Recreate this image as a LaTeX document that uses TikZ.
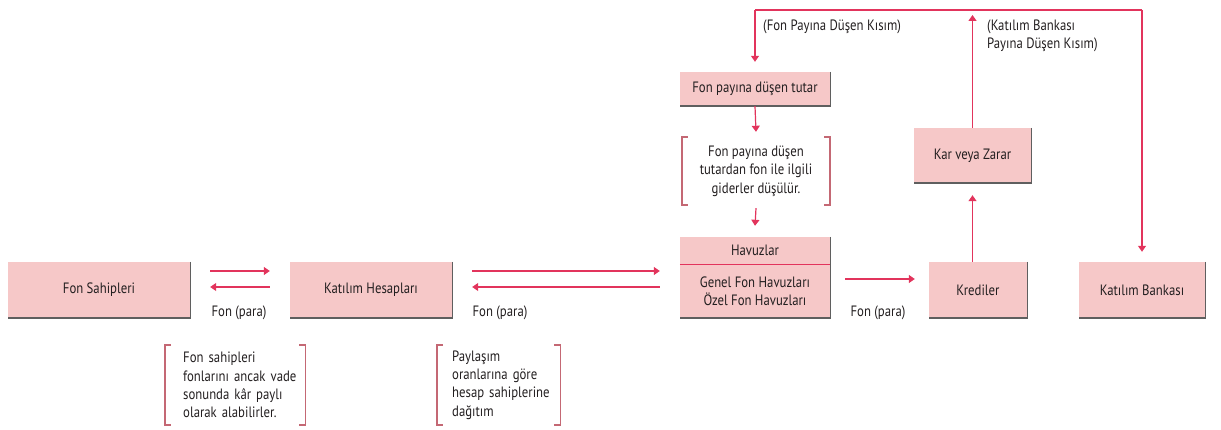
\documentclass[tikz,border=0pt]{standalone}
\usepackage{fontspec}
\setmainfont{PT Sans}[FakeStretch=0.85]
\usetikzlibrary{arrows.meta,calc}
\definecolor{boxpink}{RGB}{246,200,200}
\definecolor{arrred}{RGB}{226,52,92}
\definecolor{brk}{RGB}{196,104,116}
\definecolor{shd}{RGB}{95,95,95}
\definecolor{txt}{RGB}{35,31,32}
\tikzset{
  pbox/.style={fill=boxpink, inner sep=0pt, text=txt, font=\fontsize{15}{18}\selectfont, align=center},
  arr/.style={draw=arrred, line width=1.2pt, -{Triangle[width=8pt,length=6pt]}},
  plain/.style={draw=arrred, line width=1.2pt},
  shadowline/.style={draw=shd, line width=1.4pt},
  lbl/.style={text=txt, font=\fontsize{15}{17.5}\selectfont, inner sep=0pt},
  note/.style={text=txt, font=\fontsize{15}{18.4}\selectfont, inner sep=0pt},
  bracket/.style={draw=brk, line width=1.5pt}
}
\begin{document}
\begin{tikzpicture}[x=1pt,y=-1pt]
\useasboundingbox (0,0) rectangle (1221,430);
% boxes
\node[pbox, minimum width=182pt, minimum height=56pt] (fs) at (99,290) {Fon Sahipleri};
\node[pbox, minimum width=162pt, minimum height=56pt] (kh) at (371,290) {Katılım Hesapları};
\node[pbox, minimum width=150pt, minimum height=27pt] (havh) at (755,250.5) {Havuzlar};
\node[pbox, minimum width=150pt, minimum height=54pt] (havb) at (755,291) {Genel Fon Havuzları\\Özel Fon Havuzları};
\node[pbox, minimum width=98pt, minimum height=56pt] (kred) at (978,290) {Krediler};
\node[pbox, minimum width=126pt, minimum height=56pt] (kb) at (1142,290) {Katılım Bankası};
\node[pbox, minimum width=117pt, minimum height=55pt] (kz) at (972.5,155.5) {Kar veya Zarar};
\node[pbox, minimum width=150pt, minimum height=34pt] (fpt) at (755,89) {Fon payına düşen tutar};
% shadows
\foreach \n in {fs,kh,kred,kb,kz,fpt}{
  \draw[shadowline] (\n.north east) -- (\n.south east) -- (\n.south west);
}
\draw[shadowline] (havh.north east) -- (havb.south east) -- (havb.south west);
\draw[draw=arrred, line width=1.2pt] (havh.south west) -- (havh.south east);
% notes
\node[note, minimum height=80pt, text width=126pt, align=left, anchor=west] (note1) at (183,385)
  {Fon sahipleri\\fonlarını ancak vade\\sonunda kâr paylı\\olarak alabilirler.};
\node[note, minimum height=80pt, text width=116pt, align=left, anchor=west] (note2) at (452,385)
  {Paylaşım\\oranlarına göre\\hesap sahiplerine\\dağıtım};
\node[note, minimum width=148pt, minimum height=68pt, align=center] (note3) at (756,171)
  {Fon payına düşen\\tutardan fon ile ilgili\\giderler düşülür.};
\foreach \n/\dl/\dr in {note1/18/-4,note2/15/-8,note3/0/0}{
  \draw[bracket] ($(\n.north west)+(-\dl+6,0)$) -- ($(\n.north west)+(-\dl,0)$) -- ($(\n.south west)+(-\dl,0)$) -- ($(\n.south west)+(-\dl+6,0)$);
  \draw[bracket] ($(\n.north east)+(\dr-6,0)$) -- ($(\n.north east)+(\dr,0)$) -- ($(\n.south east)+(\dr,0)$) -- ($(\n.south east)+(\dr-6,0)$);
}
% labels
\node[lbl] (l1) at (239,313) {Fon (para)};
\node[lbl] (l2) at (500,313) {Fon (para)};
\node[lbl] (l3) at (878,313) {Fon (para)};
\node[lbl, anchor=west] (lfon) at (763,27) {(Fon Payına Düşen Kısım)};
\node[lbl, anchor=north west, align=left] (lkb) at (987,20) {(Katılım Bankası\\Payına Düşen Kısım)};
% arrows
\draw[arr] ($(fs.east)+(20,-19)$) -- ($(kh.west)+(-20,-19)$);
\draw[arr] ($(kh.west)+(-20,-3)$) -- ($(fs.east)+(20,-3)$);
\draw[arr] ($(kh.east)+(20,-19)$) -- ($(havb.west)+(-20,-20)$);
\draw[arr] ($(havb.west)+(-20,-4)$) -- ($(kh.east)+(20,-3)$);
\draw[arr] ($(havb.east)+(15,-12)$) -- ($(kred.west)+(-14,-11)$);
\draw[arr] (kz.south |- kred.north) -- ($(kz.south)+(0,12)$);
\coordinate (ktop) at (972.5,15);
\draw[arr] (kz.north) -- (ktop);
\coordinate (tr) at (1142,10);
\coordinate (tl) at (755,10);
\draw[plain] (tl) -- (tr);
\draw[arr] (tr) -- ($(kb.north)+(0,-10)$);
\draw[arr] (tl) -- ($(fpt.north)+(0,-10)$);
\draw[arr] (fpt.south) -- ($(note3.north)+(0,-5)$);
\draw[arr] ($(note3.south)+(0,3)$) -- ($(havh.north)+(0,-11)$);
\end{tikzpicture}
\end{document}
